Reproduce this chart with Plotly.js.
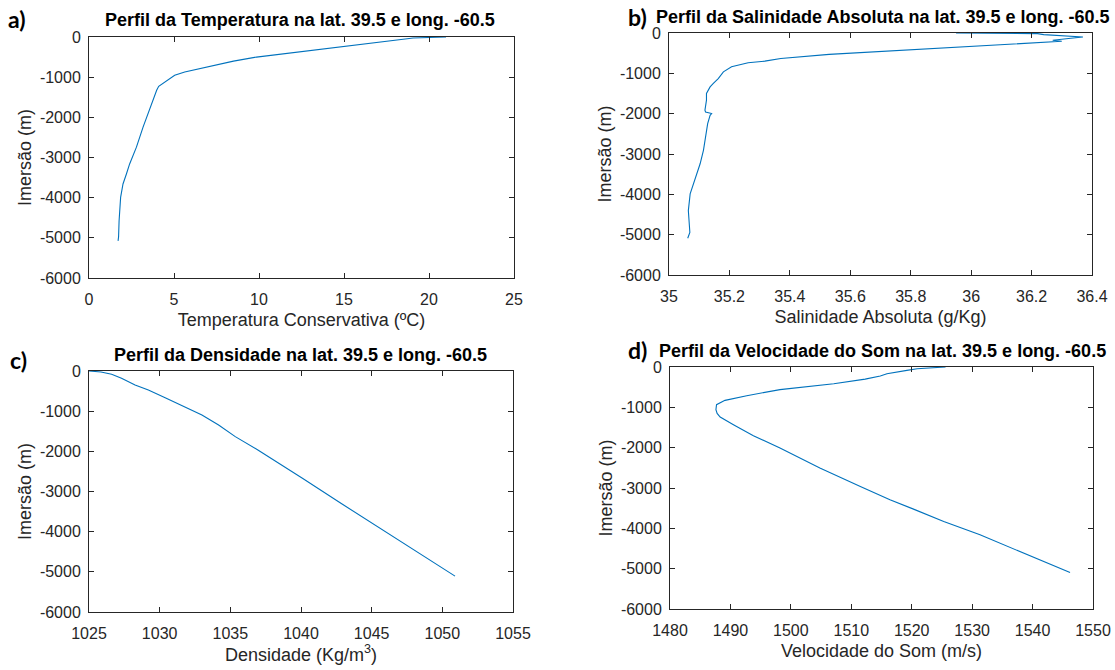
<!DOCTYPE html>
<html>
<head>
<meta charset="utf-8">
<script src="https://cdn.plot.ly/plotly-3.0.1.min.js"></script>
<style>
  html, body { margin: 0; padding: 0; background: #ffffff; }
  #chart { width: 1115px; height: 670px; }
</style>
</head>
<body>
<div id="chart"></div>
<script>
// ---------------- DATA ----------------
// a) Temperatura Conservativa (ºC) vs Imersão (m)
var tempDepth = [0, -10, -25, -50, -100, -150, -200, -250, -300, -400, -500, -600, -700, -761, -786, -870, -953, -1120, -1228, -1328, -1578, -1910, -2243, -2743, -3160, -3410, -3660, -3993, -4243, -4575, -4975, -5075];
var tempVals  = [21.0, 20.2, 19.06, 18.6, 17.6, 16.6, 15.6, 14.6, 13.7, 11.8, 9.85, 8.5, 7.45, 6.81, 6.41, 5.63, 5.04, 4.45, 4.1, 3.98, 3.76, 3.47, 3.18, 2.79, 2.39, 2.2, 2.0, 1.86, 1.81, 1.77, 1.74, 1.71];

// b) Salinidade Absoluta (g/Kg) vs Imersão (m)
var salDepth = [0, -5, -15, -40, -70, -100, -130, -155, -180, -205, -237, -287, -345, -385, -450, -530, -632, -697, -739, -838, -963, -1129, -1253, -1336, -1500, -1666, -1915, -1958, -1998, -2040, -2246, -2579, -2910, -3242, -3657, -3864, -3988, -4403, -4693, -4942, -5090];
var salVals  = [35.95, 36.10, 36.22, 36.24, 36.31, 36.37, 36.33, 36.30, 36.27, 36.30, 36.225, 36.105, 35.995, 35.886, 35.71, 35.53, 35.37, 35.317, 35.262, 35.207, 35.18, 35.163, 35.146, 35.136, 35.124, 35.124, 35.119, 35.121, 35.141, 35.136, 35.128, 35.121, 35.114, 35.103, 35.086, 35.075, 35.07, 35.064, 35.066, 35.069, 35.062];

// c) Densidade (Kg/m3) vs Imersão (m)
var denDepth = [0, -10, -25, -83, -182, -348, -473, -664, -888, -1094, -1343, -1634, -1965, -2338, -2670, -3299, -3920, -4418, -5107];
var denVals  = [1025.0, 1025.5, 1025.85, 1026.6, 1027.3, 1028.26, 1029.2, 1030.39, 1031.81, 1032.99, 1034.17, 1035.35, 1036.95, 1038.65, 1040.1, 1042.85, 1045.6, 1047.85, 1050.9];

// d) Velocidade do Som (m/s) vs Imersão (m)
var sndDepth = [0, -20, -42, -83, -167, -225, -300, -417, -560, -711, -827, -935, -1059, -1150, -1241, -1431, -1704, -2010, -2506, -2961, -3292, -3524, -3830, -4161, -4658, -5097];
var sndVals  = [1525.6, 1523.0, 1520.9, 1519.2, 1515.9, 1514.8, 1512.3, 1507.1, 1498.2, 1492.7, 1489.1, 1487.7, 1487.6, 1487.8, 1488.3, 1490.5, 1493.8, 1498.2, 1504.8, 1511.5, 1516.4, 1520.3, 1525.3, 1531.3, 1539.1, 1546.2];

// tick values / labels
var depthTicks = [0, -1000, -2000, -3000, -4000, -5000, -6000];
var depthTickText = ['0', '-1000', '-2000', '-3000', '-4000', '-5000', '-6000'];
var tempTicks = [0, 5, 10, 15, 20, 25];
var tempTickText = ['0', '5', '10', '15', '20', '25'];
var salTicks = [35, 35.2, 35.4, 35.6, 35.8, 36, 36.2, 36.4];
var salTickText = ['35', '35.2', '35.4', '35.6', '35.8', '36', '36.2', '36.4'];
var denTicks = [1025, 1030, 1035, 1040, 1045, 1050, 1055];
var denTickText = ['1025', '1030', '1035', '1040', '1045', '1050', '1055'];
var sndTicks = [1480, 1490, 1500, 1510, 1520, 1530, 1540, 1550];
var sndTickText = ['1480', '1490', '1500', '1510', '1520', '1530', '1540', '1550'];

var panelTitles = [
  'Perfil da Temperatura na lat. 39.5 e long. -60.5',
  'Perfil da Salinidade Absoluta na lat. 39.5 e long. -60.5',
  'Perfil da Densidade na lat. 39.5 e long. -60.5',
  'Perfil da Velocidade do Som na lat. 39.5 e long. -60.5'
];
var panelLetters = ['a)', 'b)', 'c)', 'd)'];
var xTitles = ['Temperatura Conservativa (ºC)', 'Salinidade Absoluta (g/Kg)', 'Densidade (Kg/m<sup>3</sup>)', 'Velocidade do Som (m/s)'];
var yTitle = 'Imersão (m)';

// ---------------- LAYOUT ----------------
var W = 1115, H = 670;
function fx(px) { return px / W; }
function fy(py) { return 1 - py / H; }

var lineColor = '#0072BD';
var axColor = '#262626';
var fontFam = '"Liberation Sans", Arial, Helvetica, sans-serif';

function mkTrace(x, y, xa, ya) {
  return { x: x, y: y, xaxis: xa, yaxis: ya, type: 'scatter', mode: 'lines',
           line: { color: lineColor, width: 1.1 }, hoverinfo: 'skip', showlegend: false };
}

var data = [
  mkTrace(tempVals, tempDepth, 'x', 'y'),
  mkTrace(salVals, salDepth, 'x2', 'y2'),
  mkTrace(denVals, denDepth, 'x3', 'y3'),
  mkTrace(sndVals, sndDepth, 'x4', 'y4')
];

function xAx(dom, anchor, range, tv, tt, title) {
  return {
    domain: dom, anchor: anchor, range: range, tickvals: tv, ticktext: tt,
    ticks: 'inside', ticklen: 5, tickwidth: 1, tickcolor: axColor,
    showline: true, linecolor: axColor, linewidth: 1, mirror: 'ticks',
    showgrid: false, zeroline: false, fixedrange: true,
    tickfont: { family: fontFam, size: 16, color: axColor },
    ticklabelstandoff: 7,
    title: { text: title, font: { family: fontFam, size: 18, color: axColor }, standoff: 6 }
  };
}
function yAx(dom, anchor, tv, tt) {
  return {
    domain: dom, anchor: anchor, range: [-6000, 0], tickvals: tv, ticktext: tt,
    ticks: 'inside', ticklen: 5, tickwidth: 1, tickcolor: axColor,
    showline: true, linecolor: axColor, linewidth: 1, mirror: 'ticks',
    showgrid: false, zeroline: false, fixedrange: true,
    tickfont: { family: fontFam, size: 16, color: axColor },
    ticklabelstandoff: 4,
    title: { text: yTitle, font: { family: fontFam, size: 18, color: axColor }, standoff: 3 }
  };
}

var dA = { x: [fx(89), fx(514)], y: [fy(278), fy(37)] };
var dB = { x: [fx(669), fx(1092)], y: [fy(275), fy(33)] };
var dC = { x: [fx(89), fx(513)], y: [fy(612), fy(371)] };
var dD = { x: [fx(670), fx(1093)], y: [fy(609), fy(367)] };

var titlePos = [ [300, 20], [882, 17], [300, 355], [882, 351] ];
var letterPos = [ [17, 19], [637, 17], [18, 360], [637, 350] ];

var annotations = [];
for (var i = 0; i < 4; i++) {
  annotations.push({
    xref: 'paper', yref: 'paper', x: fx(titlePos[i][0]), y: fy(titlePos[i][1]),
    xanchor: 'center', yanchor: 'middle', showarrow: false,
    text: '<b>' + panelTitles[i] + '</b>',
    font: { family: fontFam, size: 18, color: '#000000' }
  });
  annotations.push({
    xref: 'paper', yref: 'paper', x: fx(letterPos[i][0]), y: fy(letterPos[i][1]),
    xanchor: 'center', yanchor: 'middle', showarrow: false,
    text: '<b>' + panelLetters[i] + '</b>',
    font: { family: 'Lato, "Open Sans", sans-serif', size: 23, color: '#000000' }
  });
}

var layout = {
  width: W, height: H,
  margin: { l: 0, r: 0, t: 0, b: 0, pad: 0 },
  paper_bgcolor: '#ffffff', plot_bgcolor: '#ffffff',
  showlegend: false,
  xaxis:  xAx(dA.x, 'y',  [0, 25], tempTicks, tempTickText, xTitles[0]),
  yaxis:  yAx(dA.y, 'x',  depthTicks, depthTickText),
  xaxis2: xAx(dB.x, 'y2', [35, 36.4], salTicks, salTickText, xTitles[1]),
  yaxis2: yAx(dB.y, 'x2', depthTicks, depthTickText),
  xaxis3: xAx(dC.x, 'y3', [1025, 1055], denTicks, denTickText, xTitles[2]),
  yaxis3: yAx(dC.y, 'x3', depthTicks, depthTickText),
  xaxis4: xAx(dD.x, 'y4', [1480, 1550], sndTicks, sndTickText, xTitles[3]),
  yaxis4: yAx(dD.y, 'x4', depthTicks, depthTickText),
  annotations: annotations
};

Plotly.newPlot('chart', data, layout, { displayModeBar: false, staticPlot: true });
</script>
</body>
</html>
